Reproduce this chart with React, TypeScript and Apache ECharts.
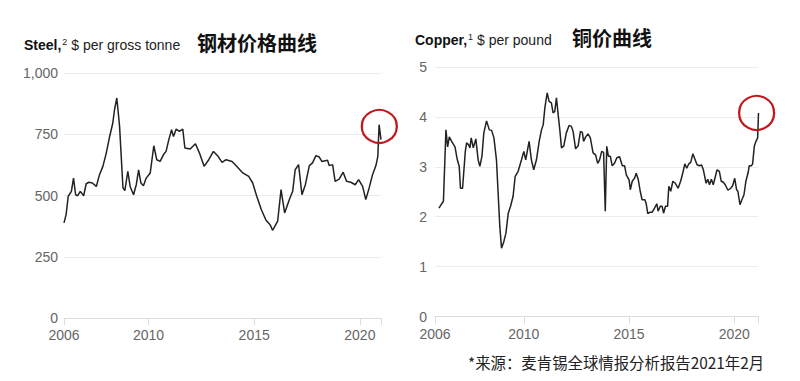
import React, { useEffect, useRef } from "react";
import * as echarts from "echarts";

// Steel, $ per gross tonne: [year, value]
const steelPrices: [number, number][] = [
  [2006.0, 388], [2006.1, 422], [2006.2, 497], [2006.35, 517], [2006.45, 571], [2006.55, 503],
  [2006.65, 499], [2006.77, 517], [2006.93, 499], [2007.05, 548], [2007.18, 554], [2007.34, 551],
  [2007.53, 537], [2007.68, 585], [2007.84, 619], [2008.0, 673], [2008.16, 741], [2008.31, 796],
  [2008.39, 850], [2008.5, 898], [2008.63, 782], [2008.79, 531], [2008.88, 520], [2009.02, 599],
  [2009.13, 537], [2009.29, 503], [2009.42, 544], [2009.53, 605], [2009.64, 551], [2009.76, 540],
  [2009.89, 571], [2010.08, 592], [2010.25, 703], [2010.39, 646], [2010.55, 639], [2010.71, 667],
  [2010.83, 680], [2010.96, 728], [2011.09, 769], [2011.18, 741], [2011.31, 771], [2011.46, 762],
  [2011.62, 771], [2011.72, 694], [2011.97, 690], [2012.22, 711], [2012.41, 673], [2012.63, 619],
  [2012.85, 646], [2013.07, 680], [2013.29, 660], [2013.48, 635], [2013.67, 646], [2013.95, 639],
  [2014.17, 619], [2014.46, 592], [2014.74, 578], [2014.93, 551], [2015.12, 497], [2015.34, 442],
  [2015.56, 399], [2015.75, 381], [2015.87, 358], [2016.11, 395], [2016.27, 524], [2016.44, 429],
  [2016.66, 483], [2016.82, 517], [2016.94, 605], [2017.1, 626], [2017.26, 503], [2017.42, 544],
  [2017.61, 622], [2017.76, 633], [2017.92, 663], [2018.08, 657], [2018.2, 639], [2018.47, 644],
  [2018.55, 622], [2018.71, 626], [2018.83, 558], [2019.02, 567], [2019.21, 595], [2019.37, 558],
  [2019.57, 554], [2019.78, 544], [2019.94, 565], [2020.13, 537], [2020.28, 483], [2020.44, 531],
  [2020.6, 585], [2020.76, 622], [2020.85, 660], [2020.91, 789], [2021.0, 728],
];

// Copper, $ per pound: [year, value]
const copperPrices: [number, number][] = [
  [2005.97, 2.17], [2006.1, 2.26], [2006.18, 2.31], [2006.3, 3.74], [2006.38, 3.4], [2006.46, 3.6],
  [2006.57, 3.51], [2006.73, 3.4], [2006.84, 3.14], [2006.93, 3.01], [2006.99, 2.57], [2007.09, 2.57],
  [2007.22, 3.31], [2007.28, 3.48], [2007.38, 3.44], [2007.44, 3.38], [2007.5, 3.58], [2007.6, 3.38],
  [2007.72, 3.56], [2007.83, 3.14], [2007.91, 3.01], [2008.01, 3.21], [2008.1, 3.68], [2008.23, 3.92],
  [2008.36, 3.74], [2008.47, 3.73], [2008.58, 3.58], [2008.7, 3.14], [2008.78, 2.47], [2008.86, 1.8],
  [2008.94, 1.37], [2009.05, 1.5], [2009.15, 1.67], [2009.26, 2.07], [2009.37, 2.21], [2009.49, 2.41],
  [2009.59, 2.81], [2009.73, 2.91], [2009.89, 3.14], [2010.0, 3.31], [2010.09, 3.14], [2010.25, 3.51],
  [2010.36, 3.14], [2010.47, 2.94], [2010.6, 3.14], [2010.73, 3.51], [2010.84, 3.74], [2010.92, 3.84],
  [2011.0, 4.18], [2011.11, 4.48], [2011.2, 4.31], [2011.31, 4.28], [2011.39, 4.08], [2011.47, 4.11],
  [2011.55, 4.38], [2011.64, 4.01], [2011.71, 3.74], [2011.79, 3.38], [2011.9, 3.42], [2012.02, 3.68],
  [2012.15, 3.83], [2012.26, 3.81], [2012.34, 3.71], [2012.46, 3.36], [2012.58, 3.42], [2012.69, 3.71],
  [2012.78, 3.69], [2012.84, 3.51], [2012.94, 3.6], [2013.05, 3.66], [2013.16, 3.58], [2013.29, 3.28],
  [2013.41, 3.24], [2013.51, 3.07], [2013.6, 3.14], [2013.7, 3.31], [2013.79, 3.29], [2013.87, 2.11],
  [2013.94, 3.41], [2014.02, 3.21], [2014.11, 3.21], [2014.2, 3.02], [2014.31, 3.07], [2014.42, 3.18],
  [2014.55, 3.2], [2014.68, 3.02], [2014.79, 3.02], [2014.87, 2.84], [2015.0, 2.74], [2015.06, 2.54],
  [2015.15, 2.71], [2015.26, 2.77], [2015.34, 2.87], [2015.44, 2.74], [2015.53, 2.51], [2015.62, 2.34],
  [2015.75, 2.34], [2015.81, 2.27], [2015.89, 2.06], [2016.0, 2.09], [2016.1, 2.09], [2016.21, 2.17],
  [2016.32, 2.26], [2016.38, 2.11], [2016.48, 2.21], [2016.57, 2.21], [2016.64, 2.07], [2016.73, 2.21],
  [2016.83, 2.21], [2016.89, 2.61], [2016.98, 2.51], [2017.08, 2.71], [2017.2, 2.67], [2017.33, 2.57],
  [2017.45, 2.71], [2017.55, 2.87], [2017.65, 3.06], [2017.74, 2.97], [2017.84, 3.06], [2017.93, 3.09],
  [2018.03, 3.26], [2018.14, 3.14], [2018.23, 3.04], [2018.34, 3.02], [2018.44, 3.04], [2018.53, 2.94],
  [2018.66, 2.67], [2018.74, 2.75], [2018.82, 2.64], [2018.91, 2.75], [2019.0, 2.64], [2019.08, 2.77],
  [2019.18, 2.94], [2019.29, 2.91], [2019.38, 2.71], [2019.48, 2.69], [2019.57, 2.64], [2019.7, 2.53],
  [2019.83, 2.57], [2019.92, 2.62], [2020.02, 2.77], [2020.11, 2.54], [2020.17, 2.51], [2020.27, 2.24],
  [2020.36, 2.34], [2020.46, 2.44], [2020.55, 2.71], [2020.65, 2.87], [2020.71, 3.02], [2020.81, 3.02],
  [2020.87, 3.06], [2020.95, 3.41], [2021.03, 3.51], [2021.11, 3.58], [2021.15, 4.08],
];

// Highlighted (circled) points
const steelHighlight: [number, number][] = [[2020.92, 782]];
const copperHighlight: [number, number][] = [[2021.06, 4.08]];

// Axis ticks / labels
const steelXRange = [2006, 2021];
const copperXRange = [2005.78, 2021.15];
const yearLabels = [2010, 2015, 2020];

const LATIN = "'Liberation Sans', Arial, Helvetica, sans-serif";
const CJK = "'Noto Sans CJK SC', sans-serif";
const RED = "#c0161c";

export default function App() {
  const ref = useRef<HTMLDivElement>(null);

  useEffect(() => {
    if (!ref.current) return;
    const chart = echarts.init(ref.current, null, { renderer: "svg" });

    const xAxisBase = (range: number[], gridIndex: number) => ({
      type: "value",
      gridIndex,
      min: range[0],
      max: range[1],
      splitLine: { show: false },
      axisLine: { show: true, lineStyle: { color: "#dcdcdc", width: 1 } },
      axisTick: {
        show: true,
        customValues: [range[0], ...yearLabels, range[1]],
        length: 7,
        lineStyle: { color: "#dcdcdc" },
      },
      axisLabel: {
        customValues: [range[0], ...yearLabels],
        formatter: (v: number) => String(Math.round(v)),
        color: "#666",
        fontFamily: LATIN,
        fontSize: 14,
        margin: 10,
      },
    });

    const yAxisBase = (gridIndex: number, max: number, interval: number, fmt: (v: number) => string, margin: number) => ({
      type: "value",
      gridIndex,
      min: 0,
      max,
      interval,
      axisLine: { show: false },
      axisTick: { show: false },
      splitLine: { show: true, lineStyle: { color: "#ececec", width: 1 } },
      axisLabel: {
        formatter: fmt,
        color: "#666",
        fontFamily: LATIN,
        fontSize: 14,
        margin,
      },
    });

    chart.setOption({
      animation: false,
      grid: [
        { left: 64, top: 73, width: 317, height: 245 },
        { left: 435, top: 67, width: 323.5, height: 249.5 },
      ],
      xAxis: [xAxisBase(steelXRange, 0), xAxisBase(copperXRange, 1)],
      yAxis: [
        yAxisBase(0, 1000, 250, (v: number) => v.toLocaleString("en-US"), 6),
        yAxisBase(1, 5, 1, (v: number) => String(v), 8),
      ],
      series: [
        {
          type: "line",
          xAxisIndex: 0,
          yAxisIndex: 0,
          data: steelPrices,
          showSymbol: false,
          silent: true,
          lineStyle: { color: "#222", width: 1.5 },
        },
        {
          type: "line",
          xAxisIndex: 1,
          yAxisIndex: 1,
          data: copperPrices,
          showSymbol: false,
          silent: true,
          lineStyle: { color: "#222", width: 1.5 },
        },
        {
          type: "scatter",
          xAxisIndex: 0,
          yAxisIndex: 0,
          data: steelHighlight,
          symbol: "circle",
          symbolSize: [35, 33],
          silent: true,
          z: 5,
          itemStyle: { color: "rgba(0,0,0,0)", borderColor: RED, borderWidth: 2.2, opacity: 1 },
        },
        {
          type: "scatter",
          xAxisIndex: 1,
          yAxisIndex: 1,
          data: copperHighlight,
          symbol: "circle",
          symbolSize: [35, 34],
          silent: true,
          z: 5,
          itemStyle: { color: "rgba(0,0,0,0)", borderColor: RED, borderWidth: 2.2, opacity: 1 },
        },
      ],
      graphic: [
        {
          type: "text",
          left: 24,
          top: 37,
          style: {
            text: "{b|Steel,}{s|2} $ per gross tonne",
            fill: "#222",
            font: `14px ${LATIN}`,
            rich: {
              b: { fontWeight: "bold", fontSize: 14, fontFamily: LATIN, fill: "#111" },
              s: { fontSize: 9, fontFamily: LATIN, fill: "#222", padding: [0, 0, 7, 1] },
            },
          },
        },
        {
          type: "text",
          left: 197,
          top: 32,
          style: {
            text: "钢材价格曲线",
            fill: "#111",
            font: `bold 20px ${CJK}`,
          },
        },
        {
          type: "text",
          left: 415,
          top: 32,
          style: {
            text: "{b|Copper,}{s|1} $ per pound",
            fill: "#222",
            font: `14px ${LATIN}`,
            rich: {
              b: { fontWeight: "bold", fontSize: 14, fontFamily: LATIN, fill: "#111" },
              s: { fontSize: 9, fontFamily: LATIN, fill: "#222", padding: [0, 0, 7, 1] },
            },
          },
        },
        {
          type: "text",
          left: 572,
          top: 27,
          style: {
            text: "铜价曲线",
            fill: "#111",
            font: `bold 20px ${CJK}`,
          },
        },
        {
          type: "text",
          left: 468,
          top: 354,
          style: {
            text: "*来源：麦肯锡全球情报分析报告2021年2月",
            fill: "#222",
            font: `15.4px ${CJK}`,
          },
        },
      ],
    });

    return () => chart.dispose();
  }, []);

  return (
    <div
      ref={ref}
      style={{ position: "absolute", left: 0, top: 0, width: 800, height: 381, background: "#fff" }}
    />
  );
}
